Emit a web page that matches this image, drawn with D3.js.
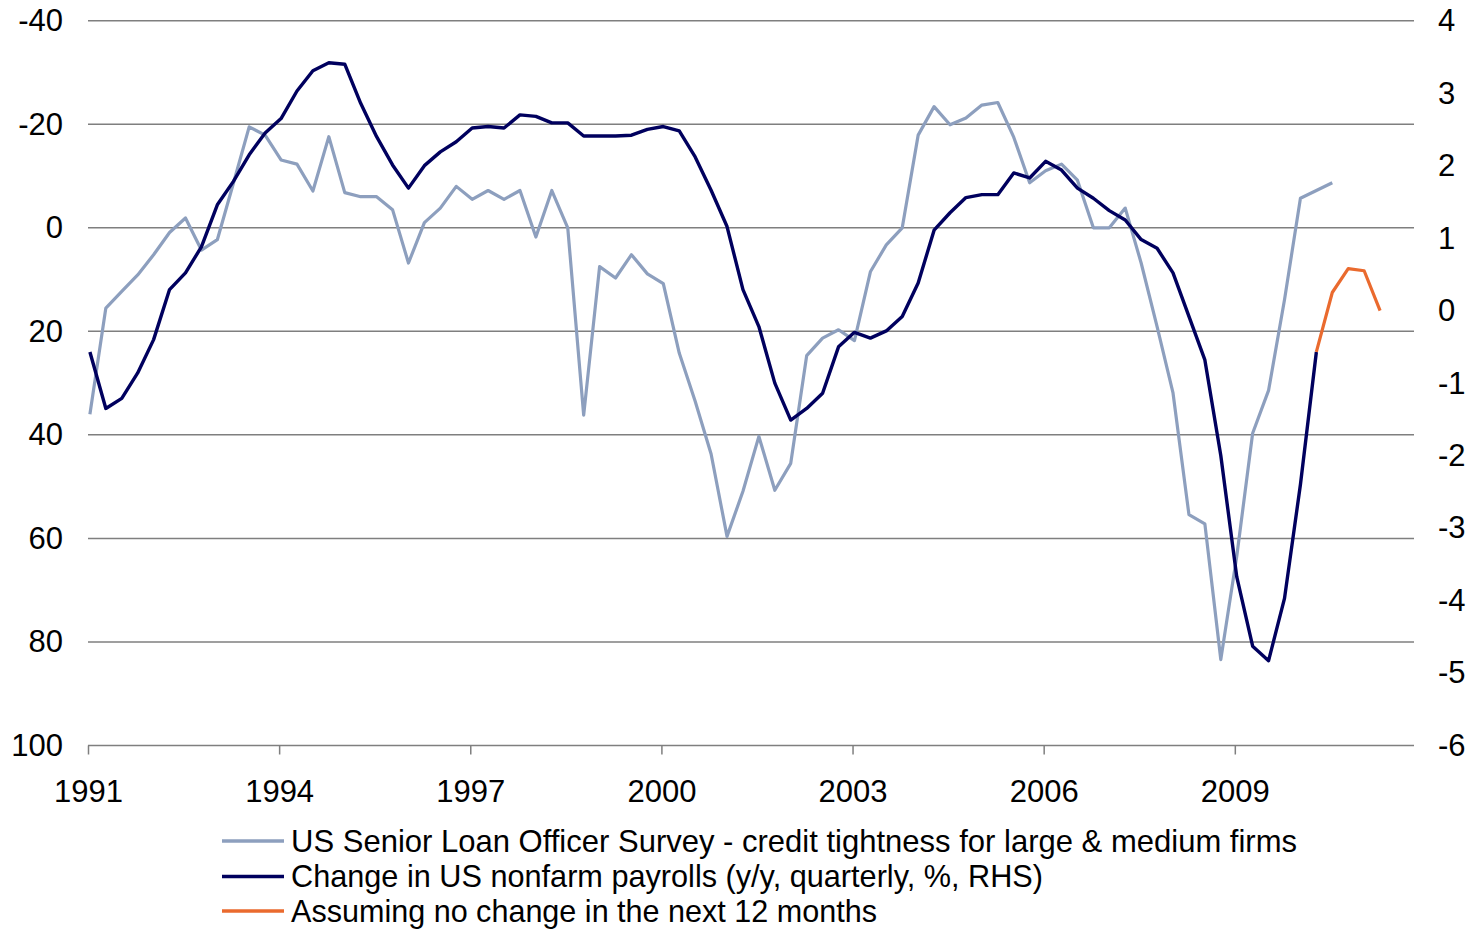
<!DOCTYPE html>
<html>
<head>
<meta charset="utf-8">
<script src="https://cdn.jsdelivr.net/npm/d3@7"></script>
<style>
  html, body { margin: 0; padding: 0; background: #fff; }
  svg { display: block; }
  text { font-family: "Liberation Sans", Arial, sans-serif; fill: #000; }
</style>
</head>
<body>
<svg id="chart" width="1475" height="929"></svg>
<script>
// Quarterly data, index 0 = 1991 Q1
const sloSurvey = [36, 15.5, 12.3, 9.1, 5.2, 0.9, -1.9, 4.3, 2.3, -8.5,
  -19.5, -17.9, -13.1, -12.3, -7.1, -17.6, -6.8, -6.0, -6.0, -3.5,
  6.8, -1.0, -3.8, -8.0, -5.5, -7.2, -5.5, -7.2, 1.8, -7.2,
  0, 36.2, 7.5, 9.7, 5.2, 8.9, 10.8, 24.2, 33.5, 43.7,
  59.6, 50.9, 40.3, 50.7, 45.5, 24.7, 21.3, 19.7, 21.8, 8.5,
  3.3, 0, -17.9, -23.4, -19.9, -21.2, -23.7, -24.2, -17.5, -8.7,
  -11.0, -12.3, -9.2, 0, 0, -3.8, 6.8, 19.1, 31.9, 55.4,
  57.2, 83.4, 63.5, 39.7, 31.4, 13.9, -5.7, -7.2, -8.7];
const payrolls = [-0.57, -1.35, -1.21, -0.86, -0.40, 0.29, 0.52, 0.88, 1.46, 1.78,
  2.15, 2.45, 2.65, 3.03, 3.31, 3.42, 3.40, 2.86, 2.40, 2.01,
  1.69, 2.00, 2.19, 2.33, 2.52, 2.54, 2.52, 2.70, 2.68, 2.59,
  2.59, 2.41, 2.41, 2.41, 2.42, 2.50, 2.54, 2.48, 2.12, 1.66,
  1.16, 0.29, -0.22, -1.00, -1.51, -1.35, -1.14, -0.50, -0.30, -0.38,
  -0.28, -0.08, 0.38, 1.11, 1.35, 1.56, 1.60, 1.60, 1.90, 1.83,
  2.06, 1.94, 1.69, 1.55, 1.38, 1.25, 0.98, 0.86, 0.52, -0.08,
  -0.68, -2.0, -3.67, -4.63, -4.83, -3.97, -2.4, -0.57];
const projectionStart = 77;
const projection = [-0.57, 0.25, 0.58, 0.55, 0.0];

const xTickYears = ["1991", "1994", "1997", "2000", "2003", "2006", "2009"];
const leftTicks = [-40, -20, 0, 20, 40, 60, 80, 100];
const rightTicks = [4, 3, 2, 1, 0, -1, -2, -3, -4, -5, -6];
const legendLabels = [
  "US Senior Loan Officer Survey - credit tightness for large & medium firms",
  "Change in US nonfarm payrolls (y/y, quarterly, %, RHS)",
  "Assuming no change in the next 12 months"
];
const colors = ["#8d9fbe", "#00005e", "#ea6a2e"];

const svg = d3.select("#chart");
const L = 88, R = 1414, T = 20.7, B = 745.5;
const FONT = "Liberation Sans, Arial, sans-serif";

const x = d3.scaleLinear().domain([0, 83.25]).range([L, R]);
const yL = d3.scaleLinear().domain([-40, 100]).range([T, B]);
const yR = d3.scaleLinear().domain([4, -6]).range([T, B]);
const plotOffset = 0.12; // points sit slightly right of the category tick
const fmt = d => String(d); // plain hyphen-minus as in the original

// gridlines
svg.append("g").selectAll("line").data(leftTicks.slice(0, -1)).join("line")
  .attr("x1", L).attr("x2", R)
  .attr("y1", d => yL(d)).attr("y2", d => yL(d))
  .attr("stroke", "#7f7f7f").attr("stroke-width", 1.5);

// x axis
const xAxis = d3.axisBottom(x)
  .tickValues(xTickYears.map((d, i) => i * 12))
  .tickFormat((d, i) => xTickYears[i])
  .tickSize(9).tickPadding(25).tickSizeOuter(0);
const gx = svg.append("g").attr("transform", `translate(0,${B})`).call(xAxis);
gx.select(".domain").attr("stroke", "#7f7f7f").attr("stroke-width", 1.5)
  .attr("d", `M${L},0H${R}`);
gx.selectAll(".tick line").attr("stroke", "#7f7f7f").attr("stroke-width", 1.5);
gx.selectAll(".tick text").attr("font-size", 31).attr("fill", "#000")
  .attr("font-family", FONT);

// left axis
const yAxisL = d3.axisLeft(yL).tickValues(leftTicks).tickFormat(fmt)
  .tickSize(0).tickPadding(25);
const gl = svg.append("g").attr("transform", `translate(${L},0)`).call(yAxisL);
gl.select(".domain").remove();
gl.selectAll(".tick text").attr("font-size", 31).attr("fill", "#000")
  .attr("font-family", FONT);

// right axis
const yAxisR = d3.axisRight(yR).tickValues(rightTicks).tickFormat(fmt)
  .tickSize(0).tickPadding(24);
const gr = svg.append("g").attr("transform", `translate(${R},0)`).call(yAxisR);
gr.select(".domain").remove();
gr.selectAll(".tick text").attr("font-size", 31).attr("fill", "#000")
  .attr("font-family", FONT);

// lines
const lineL = d3.line().x((d, i) => x(i + plotOffset)).y(d => yL(d));
const lineR = d3.line().x((d, i) => x(i + plotOffset)).y(d => yR(d));
const lineP = d3.line().x((d, i) => x(projectionStart + i + plotOffset)).y(d => yR(d));

svg.append("path").datum(sloSurvey).attr("d", lineL)
  .attr("fill", "none").attr("stroke", colors[0]).attr("stroke-width", 3.2)
  .attr("stroke-linejoin", "round");
svg.append("path").datum(payrolls).attr("d", lineR)
  .attr("fill", "none").attr("stroke", colors[1]).attr("stroke-width", 3.4)
  .attr("stroke-linejoin", "round");
svg.append("path").datum(projection).attr("d", lineP)
  .attr("fill", "none").attr("stroke", colors[2]).attr("stroke-width", 3.2)
  .attr("stroke-linejoin", "round");

// legend
const legY = [841, 876.5, 911];
const legW = [1006, 752, 586];
const leg = svg.append("g");
legendLabels.forEach((lab, i) => {
  leg.append("line").attr("x1", 222).attr("x2", 284)
    .attr("y1", legY[i]).attr("y2", legY[i])
    .attr("stroke", colors[i]).attr("stroke-width", 3.4);
  leg.append("text").attr("x", 291).attr("y", legY[i]).attr("dy", "0.35em")
    .attr("font-size", 30.5)
    .attr("textLength", legW[i]).attr("lengthAdjust", "spacingAndGlyphs")
    .text(lab);
});
</script>
</body>
</html>
